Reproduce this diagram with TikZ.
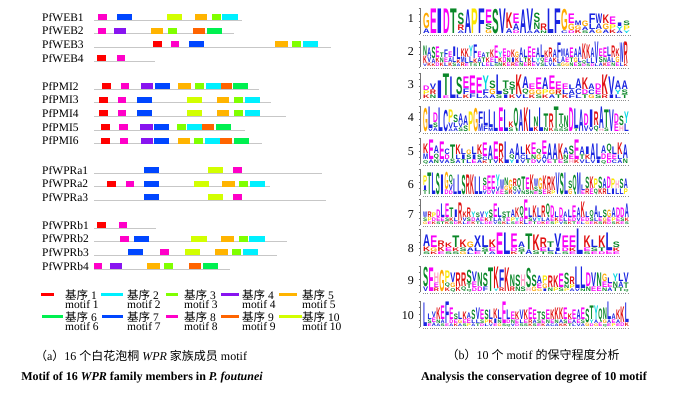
\documentclass[tikz,border=0pt]{standalone}
\usepackage{fontspec}
\usepackage{graphicx}
\setmainfont{Liberation Serif}
\newfontfamily\cjk{Noto Sans CJK SC}
\newfontfamily\logofont{Liberation Sans}
% motif colours
\definecolor{mc1}{RGB}{255,0,0}
\definecolor{mc2}{RGB}{0,240,255}
\definecolor{mc3}{RGB}{128,255,0}
\definecolor{mc4}{RGB}{136,20,240}
\definecolor{mc5}{RGB}{255,180,0}
\definecolor{mc6}{RGB}{0,240,80}
\definecolor{mc7}{RGB}{0,70,255}
\definecolor{mc8}{RGB}{255,0,200}
\definecolor{mc9}{RGB}{255,100,0}
\definecolor{mc10}{RGB}{210,255,0}
% amino acid colours
\definecolor{aablue}{RGB}{25,35,225}
\definecolor{aagreen}{RGB}{10,135,40}
\definecolor{aamag}{RGB}{250,0,250}
\definecolor{aared}{RGB}{225,15,15}
\definecolor{aaorange}{RGB}{255,170,0}
\definecolor{aayellow}{RGB}{250,230,0}
\definecolor{aacyan}{RGB}{0,215,225}
\definecolor{aapink}{RGB}{255,160,200}
\colorlet{aaA}{aablue}\colorlet{aaC}{aablue}\colorlet{aaF}{aablue}\colorlet{aaI}{aablue}
\colorlet{aaL}{aablue}\colorlet{aaM}{aablue}\colorlet{aaV}{aablue}\colorlet{aaW}{aablue}
\colorlet{aaX}{aablue}
\colorlet{aaN}{aagreen}\colorlet{aaQ}{aagreen}\colorlet{aaS}{aagreen}\colorlet{aaT}{aagreen}
\colorlet{aaD}{aamag}\colorlet{aaE}{aamag}
\colorlet{aaK}{aared}\colorlet{aaR}{aared}
\colorlet{aaG}{aaorange}\colorlet{aaP}{aayellow}\colorlet{aaY}{aacyan}\colorlet{aaH}{aapink}
\newcount\ncol
\newcommand\logoletter[4]{%
  \ifdim #4 pt>0.5pt
    \pgfmathsetmacro\lh{#4-0.45}%
    \node[inner sep=0pt,outer sep=0pt,anchor=south west] at (#1+0.15,#2-0.2)
      {\resizebox*{\lw pt}{\lh pt}{\logofont\bfseries\color{aa#3}#3}};
  \fi}
\newcommand\logorow[5]{% number, bottom y, number y, x end, data
  \node[numlbl] (n#1) at (414,#3) {#1};
  \draw[axisc] (420,#2) -- (420,#2-26);
  \foreach \t in {0,6.5,13,19.5,26} {\draw[axisc] (418.6,#2-\t) -- (420,#2-\t);}
  \draw[dotc] (423,#2+1.6) -- (#4,#2+1.6);
  \global\ncol=0
  \foreach \z in {#5} {\global\advance\ncol by 1}
  \pgfmathsetmacro\cw{(#4-423)/\the\ncol}
  \pgfmathsetmacro\lw{\cw-0.3}
  \foreach \lA/\hA/\lB/\hB/\lC/\hC [count=\i] in {#5} {
    \pgfmathsetmacro\xx{423+(\i-1)*\cw}
    \logoletter{\xx}{#2}{\lC}{\hC}
    \pgfmathsetmacro\yy{#2-\hC}
    \logoletter{\xx}{\yy}{\lB}{\hB}
    \pgfmathsetmacro\yy{#2-\hC-\hB}
    \logoletter{\xx}{\yy}{\lA}{\hA}
  }}
\newcommand\gene[4]{% top y, line end, label, motifs
  \node[lbl] (g#3) at (42,#1+3.2) {#3};
  \draw[gline] (94,#1+6) -- (#2,#1+6);
  \foreach \m/\xa/\xb in {#4} {\fill[mc\m] (\xa,#1) rectangle (\xb,#1+6);}}
\newcommand\legitem[5]{% motif, x1, x2, text x, swatch y
  \fill[mc#1] (#2,#5-1.5) rectangle (#3,#5+1.5);
  \node[leg] (lk#1) at (#4,#5+0.2) {{\cjk 基序} #1};
  \node[leg] (lm#1) at (#4,#5+10.2) {motif #1};}
\begin{document}
\begin{tikzpicture}[x=1pt,y=-1pt,
  lbl/.style={anchor=west,inner sep=0pt,font=\fontsize{11.5}{12}\selectfont},
  leg/.style={anchor=west,inner sep=0pt,font=\fontsize{11.5}{12}\selectfont},
  captext/.style={inner sep=0pt,font=\fontsize{12}{14}\selectfont},
  numlbl/.style={anchor=east,inner sep=0pt,font=\fontsize{12}{13}\selectfont},
  gline/.style={draw=black!22,line width=0.9pt},
  axisc/.style={draw=black!55,line width=0.4pt},
  dotc/.style={draw=black!45,line width=0.8pt,dash pattern=on 0.8pt off 1.4pt}]
\useasboundingbox (0,0) rectangle (677,395);
\fill[white] (0,0) rectangle (677,395);
% ---------- panel (a) ----------
\gene{14}{242}{PfWEB1}{8/98/107,7/117/132,10/167/182,5/195/207,3/212/221,2/222/238}
\gene{27.7}{234}{PfWEB2}{8/98/106,4/114/126,5/151/163,3/168/177,9/193/205,6/207/222}
\gene{41.4}{331}{PfWEB3}{1/153/162,8/171/179,7/189/204,5/275/288,3/292/301,2/303/318}
\gene{55}{155}{PfWEB4}{1/97/106,8/117/125}
\gene{83}{259}{PfPMI2}{1/102/111,8/121/129,4/141/153,7/155/170,5/178/191,3/195/204,2/206/221,9/221/232,6/233/248}
\gene{96.7}{271}{PfPMI3}{1/99/108,8/118/126,7/137/152,10/187/202,5/217/229,3/234/243,2/245/260}
\gene{110.4}{286}{PfPMI4}{1/99/108,8/118/126,7/137/152,10/187/202,5/217/229,3/234/243,2/245/260}
\gene{124.1}{245}{PfPMI5}{1/101/110,8/119/128,4/140/153,7/154/169,3/177/186,2/187/203,9/202/214,6/216/231}
\gene{137.8}{262}{PfPMI6}{1/101/110,8/120/128,4/141/153,7/154/169,5/178/190,3/194/203,2/205/220,9/220/232,6/234/249}
\gene{167}{322}{PfWPRa1}{7/144/159,10/208/223,8/233/242}
\gene{180.7}{270}{PfWPRa2}{1/107/116,8/126/134,7/144/159,10/194/209,5/222/235,3/239/248,2/250/265}
\gene{194.4}{326}{PfWPRa3}{7/144/159,10/208/223,8/233/242}
\gene{222}{156}{PfWPRb1}{1/97/106,8/119/127}
\gene{235.7}{287}{PfWPRb2}{8/120/129,7/134/149,10/191/207,5/221/234,3/239/248,2/249/265}
\gene{249.4}{277}{PfWPRb3}{7/128/143,8/160/169,10/185/200,5/215/228,3/232/241,2/243/258}
\gene{263.1}{230}{PfWPRb4}{8/94/102,4/110/122,5/147/160,3/164/173,9/189/201,6/203/218}
% legend
\legitem{1}{41}{54}{65}{294.8}
\legitem{2}{101}{123}{127}{294.8}
\legitem{3}{166}{178}{184}{294.8}
\legitem{4}{221}{239}{242}{294.8}
\legitem{5}{279}{297}{302}{294.8}
\legitem{6}{42}{63}{65}{316.6}
\legitem{7}{102}{123}{127}{316.6}
\legitem{8}{166}{178}{184}{316.6}
\legitem{9}{221}{239}{242}{316.6}
\legitem{10}{279}{302}{302}{316.6}
\node[captext] (capa1) at (141,356) {{\cjk （}a{\cjk ）}16 {\cjk 个白花泡桐} \textit{WPR} {\cjk 家族成员} motif};
\node[captext] (capa2) at (142,378) {\textbf{Motif of 16 \textit{WPR} family members in \textit{P. foutunei}}};
% ---------- panel (b) ----------
\logorow{1}{34}{19}{630}{G/16/A/5/x/0,E/25/x/0/x/0,I/25/x/0/x/0,D/25/x/0/x/0,T/25/x/0/x/0,S/12/R/6/A/3,A/24/x/0/x/0,P/25/x/0/x/0,F/25/x/0/x/0,E/14/S/6/G/4,S/25/x/0/x/0,V/25/x/0/x/0,K/16/A/5/x/0,E/10/A/7/D/3,A/24/x/0/x/0,V/22/A/3/x/0,S/10/N/7/A/4,R/7/N/3/x/0,L/25/x/0/x/0,F/25/x/0/x/0,G/22/C/3/x/0,E/10/G/7/D/3,M/5/G/4/K/4,G/6/A/4/S/3,F/10/L/6/A/4,W/10/A/6/G/4,K/9/G/6/A/4,E/8/P/5/K/4,I/4/Y/4/A/3,S/5/P/5/Y/3}
\logorow{2}{67}{52}{628}{N/10/K/8/V/3,A/9/V/6/K/4,S/12/A/5/K/3,E/11/K/5/D/4,T/5/N/5/K/4,F/8/E/5/L/4,E/6/A/5/K/4,I/10/L/6/S/4,L/12/K/4/A/3,K/8/M/6/R/4,K/9/L/6/E/3,Y/11/L/6/T/4,F/14/K/5/S/3,E/6/A/5/T/4,A/5/T/5/L/4,T/5/K/5/E/4,K/8/E/5/L/4,E/13/L/5/S/3,Y/6/K/5/N/4,E/8/D/6/K/4,D/7/N/5/E/4,K/8/I/5/R/4,G/6/K/5/E/4,A/10/L/5/N/4,L/8/T/5/E/4,E/11/K/5/R/4,E/9/L/5/E/4,A/10/Y/5/V/4,L/13/Q/5/S/4,K/7/E/5/L/4,R/10/A/5/V/4,A/8/K/5/L/4,F/16/L/5/S/3,M/8/A/6/G/4,A/9/E/5/G/4,E/10/T/5/N/4,A/9/G/5/E/4,A/11/L/5/S/4,K/16/Q/4/D/3,K/14/L/5/S/3,A/10/L/6/D/3,V/22/L/3/x/0,E/8/S/6/A/4,E/10/N/5/K/4,L/10/A/6/E/4,R/12/L/5/N/4,K/8/G/6/E/4,W/20/L/4/x/0,R/22/K/3/x/0}
\logorow{3}{99}{85}{628}{D/5/P/4/K/4,V/6/R/5/N/4,I/18/x/0/x/0,T/22/E/3/x/0,L/22/x/0/x/0,S/18/L/4/x/0,E/12/F/6/K/4,E/18/F/5/x/0,E/16/L/5/x/0,Y/14/F/6/A/3,S/8/G/6/A/4,L/20/S/4/x/0,T/8/S/6/I/4,S/7/T/6/K/4,K/20/V/4/x/0,A/12/Q/6/L/4,E/6/G/5/K/4,E/12/G/5/S/4,A/12/P/5/K/4,E/14/G/5/A/4,E/8/R/5/T/4,E/6/L/5/K/4,L/5/A/5/F/4,A/10/C/6/L/4,K/12/D/5/T/4,A/6/C/5/G/4,D/6/E/5/S/4,K/20/R/4/x/0,V/18/I/4/x/0,A/9/Y/5/L/4,A/9/S/5/T/4}
\logorow{4}{132}{118}{629}{G/24/x/0/x/0,L/22/V/3/x/0,D/10/S/5/A/4,L/24/x/0/x/0,C/22/x/0/x/0,P/13/V/6/A/3,S/8/L/5/A/4,A/9/V/5/S/4,A/10/S/6/x/0,P/20/x/0/x/0,G/24/x/0/x/0,F/12/M/8/x/0,L/14/F/6/x/0,L/18/M/4/x/0,L/20/x/0/x/0,E/24/x/0/x/0,L/22/x/0/x/0,K/6/S/4/x/0,Q/24/x/0/x/0,A/22/x/0/x/0,K/24/x/0/x/0,L/22/x/0/x/0,N/10/K/5/x/0,L/24/x/0/x/0,T/14/N/4/x/0,R/14/K/4/x/0,T/22/S/3/x/0,T/10/Q/5/S/3,N/12/S/4/x/0,D/24/x/0/x/0,L/20/T/3/x/0,A/22/x/0/x/0,D/12/V/6/x/0,I/18/V/4/x/0,R/14/Q/6/x/0,A/22/H/3/x/0,T/18/S/4/x/0,V/22/x/0/x/0,D/10/E/8/x/0,S/10/H/6/x/0,Y/12/L/8/x/0}
\logorow{5}{164}{152}{628}{K/10/M/6/Q/4,E/20/A/4/x/0,A/8/Q/6/N/4,E/18/V/4/x/0,C/6/D/5/A/4,T/14/S/5/x/0,K/10/L/5/A/4,L/6/I/5/T/4,G/5/S/5/L/4,L/8/I/5/E/4,K/10/S/5/A/4,E/14/C/4/K/3,A/14/T/4/x/0,E/18/V/4/x/0,R/14/K/6/x/0,L/22/x/0/x/0,A/6/Q/5/Y/4,A/16/I/4/x/0,L/8/C/5/V/4,K/10/L/5/T/4,E/12/N/5/D/4,Q/6/G/5/V/4,E/14/A/5/V/4,A/16/E/4/x/0,A/16/T/4/x/0,K/16/E/4/x/0,A/7/N/5/S/4,S/9/E/5/H/4,E/20/K/4/x/0,A/8/T/5/V/4,I/8/K/5/L/4,A/16/V/4/x/0,L/16/I/4/x/0,A/8/D/6/Q/4,Q/10/E/6/D/4,L/8/E/5/C/4,K/12/L/5/A/4,A/14/N/5/x/0}
\logorow{6}{195}{185}{628}{P/10/I/5/T/4,T/22/x/0/x/0,L/22/x/0/x/0,S/22/x/0/x/0,I/20/x/0/x/0,G/18/D/5/x/0,Q/10/V/6/D/4,L/16/x/0/x/0,L/20/x/0/x/0,S/20/x/0/x/0,R/20/x/0/x/0,K/20/x/0/x/0,L/18/x/0/x/0,L/18/x/0/x/0,S/8/D/5/V/4,E/14/D/5/x/0,E/14/V/5/x/0,Y/12/V/5/E/3,W/10/E/5/x/0,N/8/G/5/S/4,G/10/R/5/x/0,R/8/Q/5/V/3,Q/12/V/5/x/0,T/14/N/4/x/0,E/12/S/5/x/0,K/16/N/4/x/0,W/8/S/5/E/3,G/12/S/5/x/0,K/14/E/5/x/0,R/14/R/4/x/0,K/14/P/4/x/0,V/22/x/0/x/0,S/22/x/0/x/0,L/22/x/0/x/0,S/8/G/6/x/0,Q/20/x/0/x/0,M/22/x/0/x/0,L/6/E/4/x/0,S/12/R/6/x/0,K/12/E/6/x/0,P/10/Q/6/x/0,S/12/K/6/x/0,A/10/R/6/x/0,D/12/L/6/x/0,P/10/I/6/x/0,H/8/L/6/x/0,S/10/L/6/x/0,A/10/P/6/x/0}
\logorow{7}{225}{215}{629}{W/6/S/4/G/3,R/6/P/4/E/3,P/5/D/4/K/3,D/8/E/4/S/3,L/14/E/4/T/3,E/14/S/4/K/3,T/10/K/4/S/3,I/8/L/4/D/3,R/18/K/4/x/0,K/6/V/4/L/3,R/10/S/4/E/3,Y/6/D/4/K/3,S/5/A/4/T/3,V/6/E/4/L/3,Y/6/K/4/D/3,S/8/T/4/E/3,E/14/L/4/V/3,L/10/A/4/S/3,S/6/T/4/K/3,T/6/E/4/L/3,A/8/P/4/S/3,K/10/Y/4/E/3,Q/12/D/4/K/3,E/20/L/5/x/0,L/10/S/4/E/3,K/12/V/4/T/3,L/10/Y/4/D/3,R/12/L/4/K/3,Q/14/A/4/E/3,D/12/E/4/S/3,L/6/K/4/P/3,D/10/E/4/V/3,A/6/L/4/S/3,L/8/E/4/K/3,E/12/D/4/T/3,A/10/V/4/E/3,K/16/E/4/L/3,L/6/D/4/G/3,Q/8/S/4/E/3,A/12/L/4/K/3,L/6/E/4/S/3,S/8/G/4/R/3,G/8/E/4/D/3,A/10/P/4/S/3,D/10/E/4/K/3,D/10/S/4/E/3,A/14/K/4/S/3}
\logorow{8}{255}{249}{620}{A/12/K/5/S/3,E/12/G/4/K/3,R/6/K/5/E/3,K/5/E/4/S/3,T/12/K/4/S/3,K/8/S/4/G/3,G/6/A/4/L/3,X/12/L/4/E/3,L/12/S/4/T/3,K/8/E/4/A/3,E/22/x/0/x/0,L/22/x/0/x/0,E/14/D/4/K/3,A/6/S/4/T/3,T/16/A/5/x/0,K/16/S/4/x/0,R/10/E/4/T/3,T/6/L/4/S/3,V/14/I/4/L/3,E/12/D/4/S/3,E/12/K/4/E/3,L/26/x/0/x/0,K/12/E/4/S/3,L/8/S/4/E/3,K/12/T/4/D/3,L/18/E/4/x/0,S/6/K/4/E/3}
\logorow{9}{292}{281}{629}{S/20/V/5/x/0,E/24/x/0/x/0,H/10/E/5/R/4,G/22/x/0/x/0,P/12/Q/5/K/4,V/10/G/5/Q/4,R/14/K/5/x/0,R/14/Q/5/x/0,S/14/T/5/Q/3,V/10/E/6/D/4,N/14/D/5/x/0,S/14/F/5/x/0,T/24/x/0/x/0,K/22/Y/3/x/0,F/18/R/4/x/0,K/24/x/0/x/0,N/12/R/5/x/0,S/12/N/5/x/0,H/12/S/5/x/0,S/20/H/4/x/0,S/12/G/5/x/0,A/8/E/5/G/3,P/8/G/5/I/3,R/12/N/4/x/0,K/12/P/4/x/0,E/14/S/4/x/0,S/12/N/4/P/3,R/8/P/4/A/3,L/22/V/3/x/0,L/22/N/3/x/0,D/14/N/5/x/0,V/14/E/5/x/0,N/14/E/5/x/0,G/8/E/6/N/4,L/6/E/4/A/4,Y/8/N/6/T/4,L/8/A/6/T/4,V/10/T/6/Q/3}
\logorow{10}{327}{316}{629}{L/24/x/0/x/0,L/6/S/4/E/3,V/6/E/5/A/4,K/12/N/4/A/3,E/14/A/4/S/3,F/22/E/3/x/0,E/12/D/4/A/3,S/6/E/4/K/3,L/8/G/4/A/3,K/8/E/4/S/3,A/6/E/5/P/3,S/10/L/4/A/3,V/12/L/4/T/3,E/10/S/4/D/3,S/10/P/4/L/3,L/10/K/4/V/3,K/10/I/5/E/3,L/10/N/4/G/3,E/22/S/3/x/0,L/10/D/4/Q/3,E/8/N/4/V/3,K/8/E/4/D/3,V/10/L/4/S/3,K/10/E/4/S/3,E/12/R/4/K/3,E/10/A/4/S/3,T/8/S/4/E/3,S/8/E/4/K/3,E/10/N/4/A/3,K/10/E/4/C/3,K/12/N/4/A/3,K/12/A/4/K/3,E/12/S/4/K/3,K/6/E/4/T/3,E/10/A/4/L/3,A/10/E/4/V/3,E/12/S/4/A/3,S/14/G/4/x/0,T/14/Y/4/D/3,Y/14/A/4/G/3,Q/14/E/4/x/0,N/12/G/4/Q/3,L/18/A/4/E/3,A/6/E/4/P/3,K/10/A/4/E/3,K/16/D/4/x/0,L/20/K/4/x/0}
\node[captext] (capb1) at (533,355) {{\cjk （}b{\cjk ）}10 {\cjk 个} motif {\cjk 的保守程度分析}};
\node[captext] (capb2) at (534,378) {\textbf{Analysis the conservation degree of 10 motif}};
\end{tikzpicture}
\end{document}
